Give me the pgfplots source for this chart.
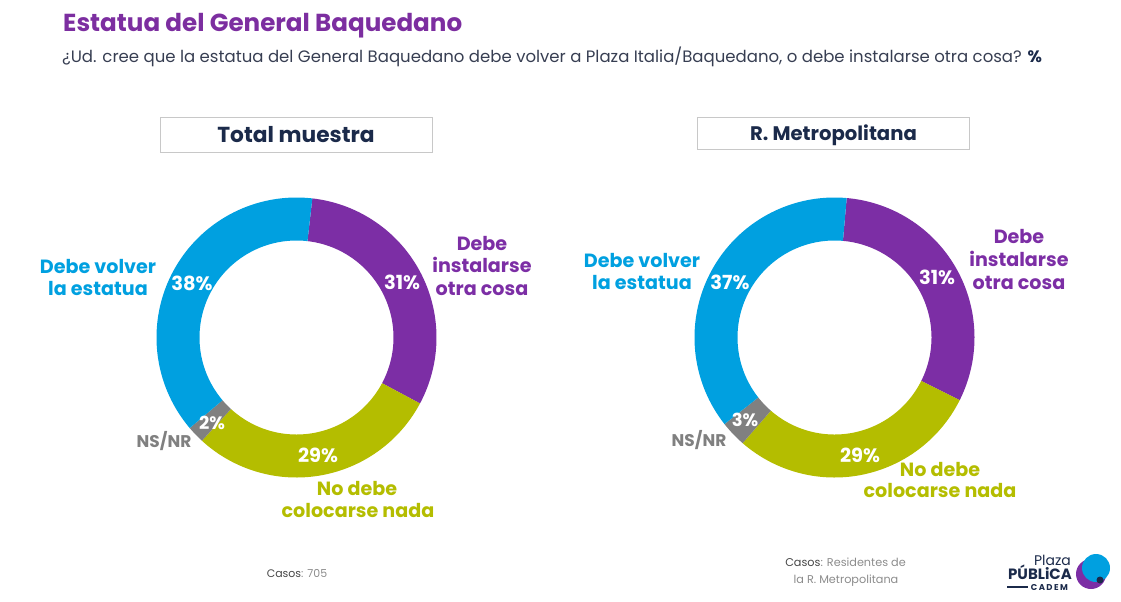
\documentclass[border=0pt]{standalone}
\usepackage{fontspec}
\setmainfont{Poppins}
\usepackage{pgfplots}
\pgfplotsset{compat=1.18}
\usepackage{pgfplotstable}

\definecolor{cblue}{RGB}{0,160,224}
\definecolor{cpurple}{RGB}{124,46,165}
\definecolor{cgreen}{RGB}{180,189,0}
\definecolor{cgray}{RGB}{128,128,128}
\definecolor{cnavy}{RGB}{27,42,74}
\definecolor{ctitle}{RGB}{124,46,160}
\definecolor{csub}{RGB}{55,62,82}
\definecolor{cfoot}{RGB}{70,70,70}
\definecolor{cfootl}{RGB}{140,140,140}
\definecolor{cbox}{RGB}{200,200,200}

% Total muestra
\pgfplotstableread{
segment value
instalarse 31
nodebe 29
nsnr 2
volver 38
}\totaltable
% R. Metropolitana
\pgfplotstableread{
segment value
instalarse 31
nodebe 29
nsnr 3
volver 37
}\rmtable

\pgfplotstablegetelem{0}{value}\of\totaltable \let\tvA\pgfplotsretval
\pgfplotstablegetelem{1}{value}\of\totaltable \let\tvB\pgfplotsretval
\pgfplotstablegetelem{2}{value}\of\totaltable \let\tvC\pgfplotsretval
\pgfplotstablegetelem{3}{value}\of\totaltable \let\tvD\pgfplotsretval
\pgfplotstablegetelem{0}{value}\of\rmtable \let\rvA\pgfplotsretval
\pgfplotstablegetelem{1}{value}\of\rmtable \let\rvB\pgfplotsretval
\pgfplotstablegetelem{2}{value}\of\rmtable \let\rvC\pgfplotsretval
\pgfplotstablegetelem{3}{value}\of\rmtable \let\rvD\pgfplotsretval

\pgfmathsetmacro\taA{6.5}
\pgfmathsetmacro\taB{\taA+3.6*\tvA}
\pgfmathsetmacro\taC{\taB+3.6*\tvB}
\pgfmathsetmacro\taD{\taC+3.6*\tvC}
\pgfmathsetmacro\taE{\taD+3.6*\tvD}
\pgfmathsetmacro\raA{5}
\pgfmathsetmacro\raB{\raA+3.6*\rvA}
\pgfmathsetmacro\raC{\raB+3.6*\rvB}
\pgfmathsetmacro\raD{\raC+3.6*\rvC}
\pgfmathsetmacro\raE{\raD+3.6*\rvD}

% donut segment: cx, cy, start, end, colour
% t in [0,1]: outer arc forward; [1,2]: radial edge; [2,3]: inner arc back
\newcommand\seg[5]{%
  \addplot[fill=#5, draw=none, forget plot, domain=0:3, samples=301]
    ({#1+(140-43*min(max(x-1,0),1))*sin(#3+(#4-#3)*(min(x,1)-max(x-2,0)))},
     {#2-(140-43*min(max(x-1,0),1))*cos(#3+(#4-#3)*(min(x,1)-max(x-2,0)))}) -- cycle;
}
\newcommand\lbl[5]{% x, baseline y, size, colour, text
  \node[anchor=base, inner sep=0pt, text=#4, font=\bfseries\fontsize{#3}{#3}\selectfont]
    at (axis cs:#1,#2) {#5};
}

\begin{document}
\begin{tikzpicture}
\begin{axis}[
  at={(0,0)}, anchor=south west,
  scale only axis, width=1121bp, height=601bp,
  xmin=0, xmax=1121, ymin=0, ymax=601, y dir=reverse,
  hide axis, clip=false,
]
\path (rel axis cs:0,0) rectangle (rel axis cs:1,1);
% left donut
\seg{296.5}{337.5}{\taA}{\taB}{cpurple}
\seg{296.5}{337.5}{\taB}{\taC}{cgreen}
\seg{296.5}{337.5}{\taC}{\taD}{cgray}
\seg{296.5}{337.5}{\taD}{\taE}{cblue}
% right donut
\seg{834.5}{337.5}{\raA}{\raB}{cpurple}
\seg{834.5}{337.5}{\raB}{\raC}{cgreen}
\seg{834.5}{337.5}{\raC}{\raD}{cgray}
\seg{834.5}{337.5}{\raD}{\raE}{cblue}

% title and subtitle
\node[anchor=base west, inner sep=0pt, text=ctitle, font=\bfseries\fontsize{24.7}{24.7}\selectfont]
  at (axis cs:63,32) {Estatua del General Baquedano};
\node[anchor=base west, inner sep=0pt, text=csub, font=\fontsize{16.6}{16.6}\selectfont]
  at (axis cs:62,63) {¿Ud. cree que la estatua del General Baquedano debe volver a Plaza Italia/Baquedano, o debe instalarse otra cosa? \textbf{\textcolor{cnavy}{\%}}};

% boxes
\draw[cbox, line width=1pt] (axis cs:160,117) rectangle (axis cs:432.5,152);
\draw[cbox, line width=1pt] (axis cs:697,117) rectangle (axis cs:969,149);
\lbl{296}{142}{21.8}{cnavy}{Total muestra}
\lbl{833.5}{140}{19.7}{cnavy}{R. Metropolitana}

% left labels
\lbl{98}{273}{19.2}{cblue}{Debe volver}
\lbl{98}{295}{19.2}{cblue}{la estatua}
\lbl{192}{290}{19.5}{white}{38\%}
\lbl{402}{289}{19.5}{white}{31\%}
\lbl{482}{250}{19.2}{cpurple}{Debe}
\lbl{482}{272.5}{19.2}{cpurple}{instalarse}
\lbl{482}{295}{19.2}{cpurple}{otra cosa}
\lbl{212}{429}{18}{white}{2\%}
\lbl{164}{447}{17}{cgray}{NS/NR}
\lbl{318}{462}{19.5}{white}{29\%}
\lbl{357}{495}{19.2}{cgreen}{No debe}
\lbl{358}{517}{19.2}{cgreen}{colocarse nada}

% right labels
\lbl{642}{267}{19.2}{cblue}{Debe volver}
\lbl{642}{289}{19.2}{cblue}{la estatua}
\lbl{730}{289}{19.5}{white}{37\%}
\lbl{937}{284}{19.5}{white}{31\%}
\lbl{1019}{243.5}{19.2}{cpurple}{Debe}
\lbl{1019}{266.5}{19.2}{cpurple}{instalarse}
\lbl{1019}{289}{19.2}{cpurple}{otra cosa}
\lbl{745}{426}{18}{white}{3\%}
\lbl{699}{446}{17}{cgray}{NS/NR}
\lbl{860}{462}{19.5}{white}{29\%}
\lbl{940}{476}{19.2}{cgreen}{No debe}
\lbl{940}{497.5}{19.2}{cgreen}{colocarse nada}

% footers
\node[anchor=base, inner sep=0pt, font=\fontsize{11}{11}\selectfont]
  at (axis cs:297,577) {\textcolor{cfoot}{Casos}\textcolor{cfootl}{: 705}};
\node[anchor=base, inner sep=0pt, font=\fontsize{11.3}{11.3}\selectfont]
  at (axis cs:845.5,566) {\textcolor{cfoot}{Casos}\textcolor{cfootl}{: Residentes de}};
\node[anchor=base, inner sep=0pt, font=\fontsize{11.3}{11.3}\selectfont, text=cfootl]
  at (axis cs:846,583) {la R. Metropolitana};

% logo
\node[anchor=base east, inner sep=0pt, font=\fontsize{14}{14}\selectfont, text=cnavy]
  at (axis cs:1071,565) {Plaza};
\node[anchor=base east, inner sep=0pt, font=\bfseries\fontsize{15}{15}\selectfont, text=cnavy]
  at (axis cs:1072,579) {PÚBLiCA};
\node[anchor=base east, inner sep=0pt, font=\bfseries\fontsize{8.5}{8.5}\selectfont, text=cnavy]
  at (axis cs:1068,590) {C\,A\,D\,E\,M};
\draw[cnavy, line width=1.2pt] (axis cs:1007,587) -- (axis cs:1028,587);
\fill[cpurple] (axis cs:1091,574) circle[radius=15bp];
\fill[cblue] (axis cs:1096,568) circle[radius=14bp];
\fill[cnavy] (axis cs:1100,580) circle[radius=3.5bp];
\end{axis}
\end{tikzpicture}
\end{document}
